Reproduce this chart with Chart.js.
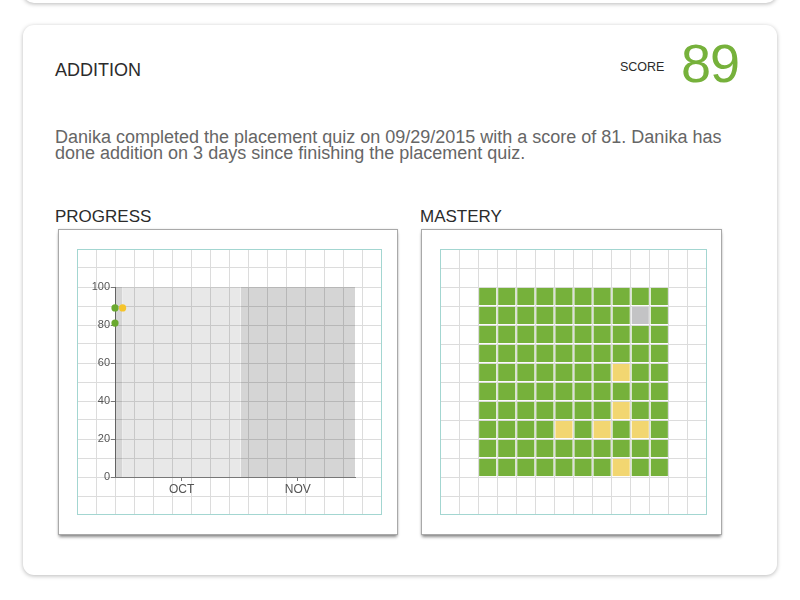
<!DOCTYPE html>
<html>
<head>
<meta charset="utf-8">
<script src="https://cdn.jsdelivr.net/npm/chart.js@4.4.0/dist/chart.umd.min.js"></script>
<style>
html,body{margin:0;padding:0;background:#fff;width:800px;height:600px;overflow:hidden;font-family:"Liberation Sans",Arial,Helvetica,sans-serif;}
.abs{position:absolute;box-sizing:border-box;}
#topcard{left:23px;top:-40px;width:754px;height:43px;border-radius:11px;background:#fff;box-shadow:0 1px 4px rgba(0,0,0,0.28);}
#card{left:23px;top:25px;width:754px;height:550px;border-radius:11px;background:#fff;box-shadow:0 1px 4px rgba(0,0,0,0.28);}
#title{left:55px;top:61px;font-size:18px;line-height:18px;color:#2b2b2b;white-space:nowrap;}
#scoreLbl{left:620px;top:61px;font-size:12.5px;line-height:12.5px;color:#2b2b2b;white-space:nowrap;}
#scoreVal{left:681px;top:36px;font-size:54px;line-height:54px;color:#76b13b;letter-spacing:-1px;white-space:nowrap;}
#desc{left:55px;top:130px;font-size:18px;line-height:15.5px;color:#666;white-space:nowrap;}
.sect{font-size:17px;line-height:17px;color:#2b2b2b;top:208px;white-space:nowrap;}
.panel{background:#fff;border:1px solid #a9a9a9;box-shadow:0 3px 3px -1px rgba(0,0,0,0.45),0 0 2px rgba(0,0,0,0.12);}
.teal{border:1px solid #a3d6d1;pointer-events:none;}
</style>
</head>
<body>
<div id="topcard" class="abs"></div>
<div id="card" class="abs"></div>
<div id="title" class="abs">ADDITION</div>
<div id="scoreLbl" class="abs">SCORE</div>
<div id="scoreVal" class="abs">89</div>
<div id="desc" class="abs">Danika completed the placement quiz on 09/29/2015 with a score of 81. Danika has<br>done addition on 3 days since finishing the placement quiz.</div>
<div class="abs sect" style="left:55px;">PROGRESS</div>
<div class="abs sect" style="left:420px;">MASTERY</div>

<div class="abs panel" style="left:58px;top:229px;width:340px;height:306px;"></div>
<div class="abs panel" style="left:421px;top:229px;width:301px;height:306px;"></div>

<div class="abs" style="left:77px;top:249px;width:305px;height:266px;"><canvas id="paper"></canvas></div>
<div class="abs" style="left:77px;top:249px;width:305px;height:266px;"><canvas id="progress"></canvas></div>
<div class="abs teal" style="left:77px;top:249px;width:305px;height:266px;"></div>

<div class="abs" style="left:440px;top:249px;width:267px;height:266px;"><canvas id="mastery"></canvas></div>
<div class="abs teal" style="left:440px;top:249px;width:267px;height:266px;"></div>

<script>
// ---------- data ----------
const axisOrigin = '2015-09-29';
const bandNames  = ['SEP', 'OCT', 'NOV'];
const bandStart  = ['2015-09-29', '2015-10-01', '2015-11-01'];
const bandEnd    = ['2015-10-01', '2015-11-01', '2015-12-01'];
const xTickLabels = ['OCT', 'NOV'];
const yMin = 0, yMax = 100, yStep = 20;

const masteredDates  = ['2015-09-29', '2015-09-29'];
const masteredScores = [81, 89];
const practiceDates  = ['2015-10-01'];
const practiceScores = [89];

// mastery grid: M = mastered, P = practicing, N = not yet
const masteryRows = [
  'MMMMMMMMMM',
  'MMMMMMMMNM',
  'MMMMMMMMMM',
  'MMMMMMMMMM',
  'MMMMMMMPMM',
  'MMMMMMMMMM',
  'MMMMMMMPMM',
  'MMMMPMPMPM',
  'MMMMMMMMMM',
  'MMMMMMMPMM'
];

// ---------- helpers ----------
const dayOf = d => (Date.parse(d) - Date.parse(axisOrigin)) / 864e5;
const GREEN = '#76b13b', YELLOW = '#f5c42c', AXIS = '#777', PAPER = '#dcdcdc';
const bandColor = i => (i % 2 === 0 ? 'rgba(0,0,0,0.165)' : 'rgba(0,0,0,0.09)');
const baseOpts = {
  responsive: true, maintainAspectRatio: false, animation: false, events: [],
  plugins: {legend: {display: false}, tooltip: {enabled: false}}
};

// ---------- paper grid behind the progress chart (same day / score units) ----------
const xFirst = dayOf(bandStart[0]), xLast = dayOf(bandEnd[bandEnd.length - 1]);
new Chart(document.getElementById('paper'), {
  type: 'scatter',
  data: {datasets: []},
  options: Object.assign({}, baseOpts, {
    layout: {padding: 0},
    scales: {
      x: {type: 'linear', min: xFirst - 10, max: xFirst + 70,
          ticks: {display: false, stepSize: 5, maxTicksLimit: 100},
          grid: {color: PAPER, drawTicks: false}, border: {display: false}},
      y: {type: 'linear', min: yMin - 20, max: yMax + 20,
          ticks: {display: false, stepSize: 10, maxTicksLimit: 100},
          grid: {color: PAPER, drawTicks: false}, border: {display: false}}
    }
  })
});

// ---------- progress chart ----------
const bandSets = bandNames.map((n, i) => ({
  type: 'line',
  label: n,
  data: [{x: dayOf(bandStart[i]), y: yMax}, {x: dayOf(bandEnd[i]), y: yMax}],
  borderWidth: 0,
  borderColor: 'transparent',
  backgroundColor: bandColor(i),
  pointRadius: 0,
  fill: 'origin',
  order: 2
}));

new Chart(document.getElementById('progress'), {
  type: 'scatter',
  data: {
    datasets: [
      {label: 'mastered', data: masteredDates.map((d, i) => ({x: dayOf(d), y: masteredScores[i]})),
       backgroundColor: '#6aa92f', borderWidth: 0, pointRadius: 3.6, clip: false, order: 0},
      {label: 'practice', data: practiceDates.map((d, i) => ({x: dayOf(d), y: practiceScores[i]})),
       backgroundColor: YELLOW, borderWidth: 0, pointRadius: 3.6, clip: false, order: 0},
      ...bandSets
    ]
  },
  options: Object.assign({}, baseOpts, {
    layout: {padding: {top: 38, right: 27, left: 0, bottom: 0}},
    scales: {
      x: {
        type: 'linear', min: xFirst, max: xLast,
        afterBuildTicks: s => {
          s.ticks = xTickLabels.map(m => {
            const i = bandNames.indexOf(m);
            return {value: (dayOf(bandStart[i]) + dayOf(bandEnd[i])) / 2};
          });
        },
        afterFit: s => { s.height = 38; },
        ticks: {autoSkip: false, maxRotation: 0, padding: 1, color: '#555',
                font: {size: 12, family: '"Liberation Sans", Arial, sans-serif'},
                callback: (v, i) => xTickLabels[i]},
        grid: {drawOnChartArea: false, drawTicks: true, tickLength: 4, tickColor: AXIS},
        border: {display: true, color: AXIS, width: 1}
      },
      y: {
        type: 'linear', min: yMin, max: yMax,
        afterFit: s => { s.width = 38; },
        ticks: {stepSize: yStep, padding: 1, color: '#555',
                font: {size: 11, family: '"Liberation Sans", Arial, sans-serif'}},
        grid: {drawOnChartArea: false, drawTicks: true, tickLength: 4, tickColor: AXIS},
        border: {display: true, color: AXIS, width: 1}
      }
    }
  })
});

// ---------- mastery chart ----------
const statusOrder = ['M', 'P', 'N'];
const statusColor = {M: GREEN, P: '#f2d671', N: '#c3c3c5'};
const cellSets = statusOrder.map(st => {
  const pts = [];
  masteryRows.forEach((row, r) => row.split('').forEach((c, col) => {
    if (c === st) pts.push({x: col + 0.5, y: r + 0.5});
  }));
  return {
    label: st, data: pts, pointStyle: 'rect',
    backgroundColor: statusColor[st], borderWidth: 0,
    pointRadius: ctx => {
      const sx = ctx.chart.scales.x;
      return (Math.abs(sx.getPixelForValue(1) - sx.getPixelForValue(0)) - 2) / Math.SQRT2;
    },
    clip: false
  };
});
const nCols = masteryRows[0].length, nRows = masteryRows.length;
new Chart(document.getElementById('mastery'), {
  type: 'scatter',
  data: {datasets: cellSets},
  options: Object.assign({}, baseOpts, {
    layout: {padding: 0},
    scales: {
      x: {type: 'linear', min: -2, max: nCols + 2,
          ticks: {display: false, stepSize: 1, maxTicksLimit: 100},
          grid: {color: PAPER, drawTicks: false}, border: {display: false}},
      y: {type: 'linear', reverse: true, min: -2, max: nRows + 2,
          ticks: {display: false, stepSize: 1, maxTicksLimit: 100},
          grid: {color: PAPER, drawTicks: false}, border: {display: false}}
    }
  })
});
</script>
</body>
</html>
